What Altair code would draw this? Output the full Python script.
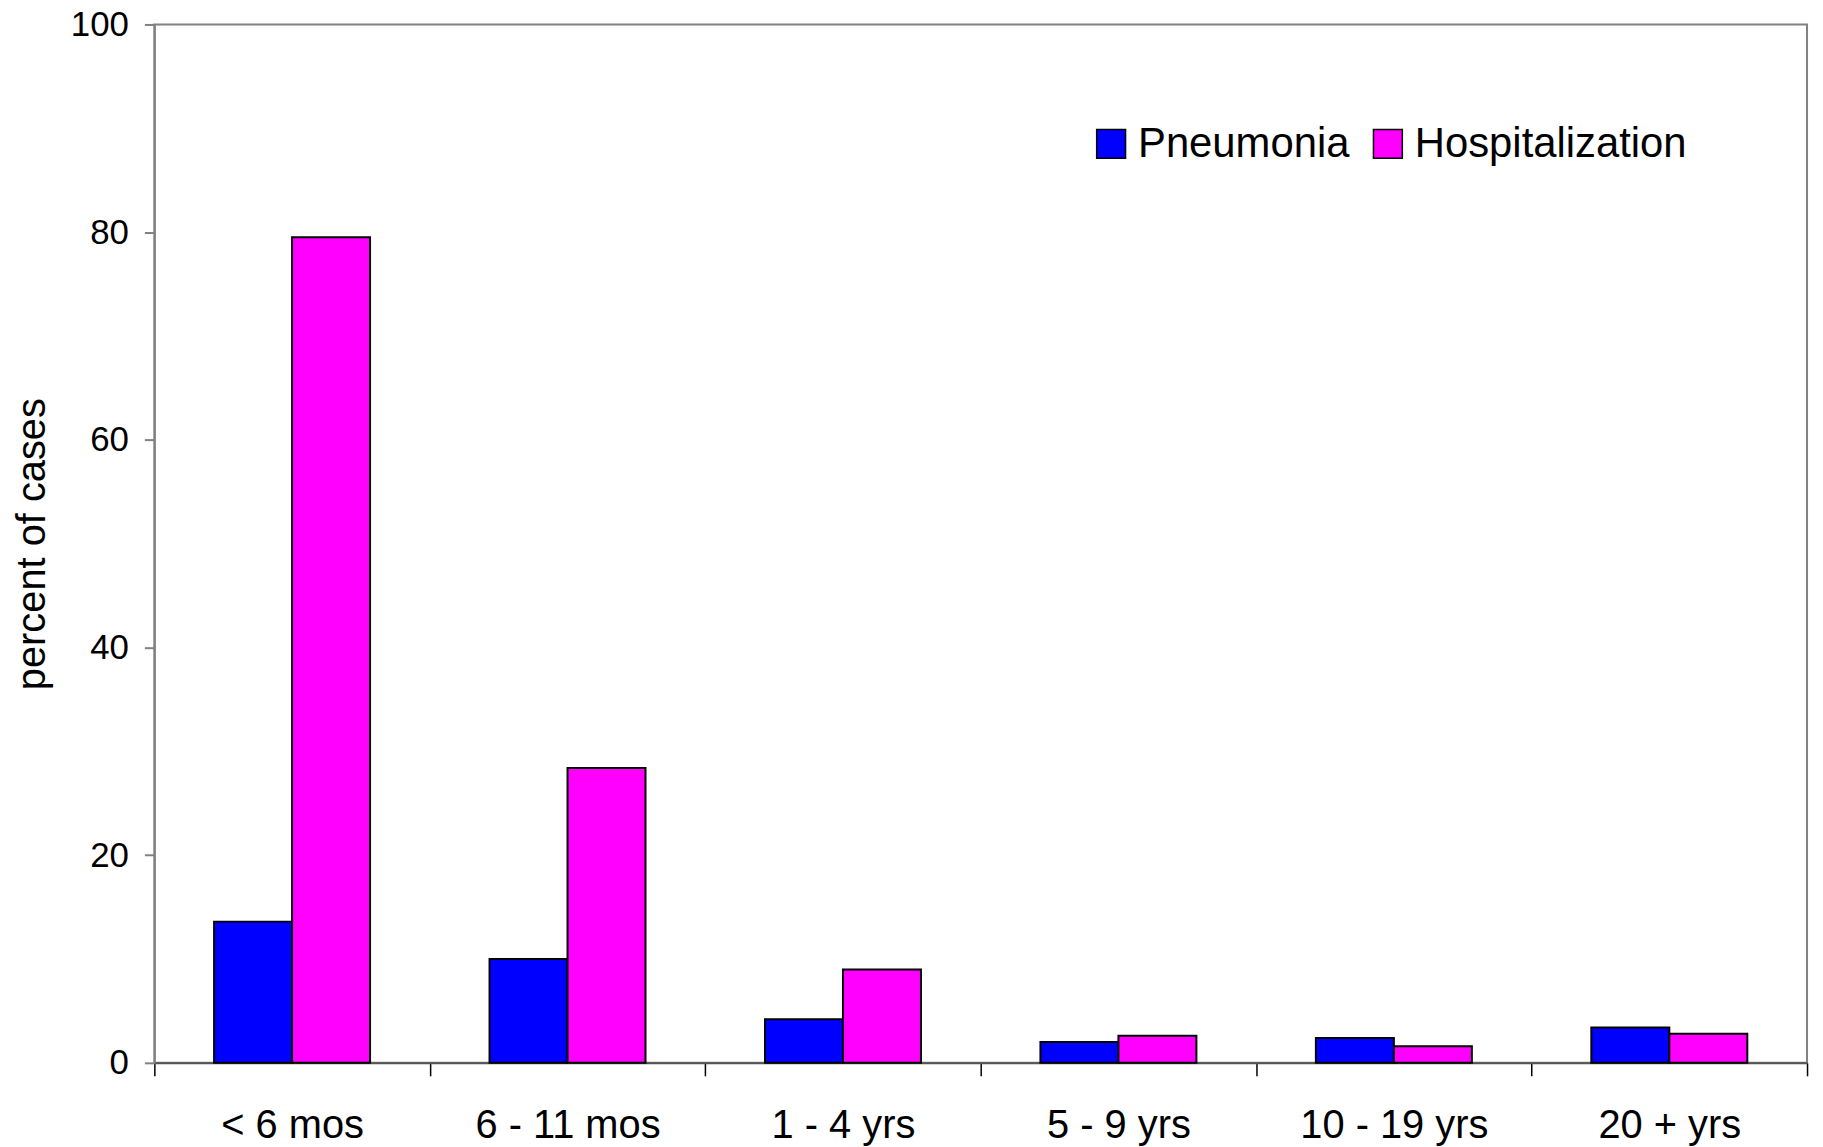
import altair as alt
import pandas as pd

age_groups = ["< 6 mos", "6 - 11 mos", "1 - 4 yrs", "5 - 9 yrs", "10 - 19 yrs", "20 + yrs"]
pneumonia = [13.6, 10.0, 4.2, 2.0, 2.4, 3.4]
hospitalization = [79.5, 28.4, 9.0, 2.6, 1.6, 2.8]
series = ["Pneumonia", "Hospitalization"]
colors = ["#0000FF", "#FF00FF"]
y_ticks = [0, 20, 40, 60, 80, 100]

rows = []
for i, g in enumerate(age_groups):
    rows.append({"age": g, "series": series[0], "pct": pneumonia[i]})
    rows.append({"age": g, "series": series[1], "pct": hospitalization[i]})
df = pd.DataFrame(rows)

FONT = "Liberation Sans"

chart = alt.Chart(
    df,
    padding={"left": 147, "top": 14, "right": 8, "bottom": 82},
).mark_bar(stroke="black", strokeWidth=2).encode(
    x=alt.X(
        "age:N",
        sort=age_groups,
        scale=alt.Scale(paddingInner=0, paddingOuter=0),
        axis=alt.Axis(
            title=None,
            labelAngle=0,
            tickBand="extent",
            tickSize=13,
            tickColor="#000000",
            tickWidth=1.5,
            domainColor="#555555",
            domainWidth=2,
            labelFontSize=40,
            labelPadding=30,
            labelColor="black",
            labelFont=FONT,
            labelLimit=0,
        ),
    ),
    xOffset=alt.XOffset(
        "series:N",
        sort=series,
        scale=alt.Scale(domain=series, paddingInner=0, paddingOuter=0.766),
    ),
    y=alt.Y(
        "pct:Q",
        scale=alt.Scale(domain=[0, 100], nice=False),
        axis=alt.Axis(
            values=y_ticks,
            title="percent of cases",
            grid=False,
            domainColor="#808080",
            domainWidth=2,
            tickColor="#808080",
            tickWidth=2,
            tickSize=10,
            labelFontSize=35,
            labelPadding=16,
            labelColor="black",
            labelFont=FONT,
            titleFont=FONT,
            titleFontSize=40,
            titleFontWeight="normal",
            titleColor="black",
            titlePadding=18,
        ),
    ),
    color=alt.Color(
        "series:N",
        sort=series,
        scale=alt.Scale(domain=series, range=colors),
        legend=alt.Legend(
            title=None,
            orient="none",
            legendX=940,
            legendY=99,
            direction="horizontal",
            symbolType="square",
            symbolSize=841,
            symbolStrokeColor="black",
            symbolStrokeWidth=1.5,
            symbolOpacity=1,
            labelFont=FONT,
            labelFontSize=42,
            labelColor="black",
            labelOffset=6,
            labelLimit=0,
            columnPadding=17,
            padding=0,
        ),
    ),
).properties(
    width=1660,
    height=1043,
    autosize=alt.AutoSizeParams(type="none"),
).configure_view(
    stroke="#808080",
    strokeWidth=2,
)

chart.save("out.html", embed_options={"renderer": "svg", "actions": False})
